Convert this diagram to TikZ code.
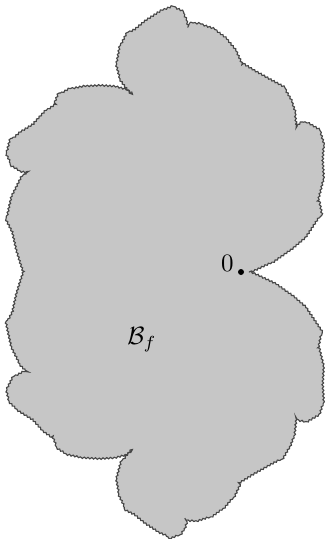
\documentclass[tikz,border=0pt]{standalone}
\usepackage{amsmath,amssymb}
\usepackage{xcolor}
\usepackage{tikz}
\usetikzlibrary{positioning,calc,decorations.pathmorphing}
\definecolor{basingray}{RGB}{198,198,198}

\begin{document}
\begin{tikzpicture}[x=0.4pt, y=-0.4pt,
  basin/.style={fill=basingray, draw=black!72, line width=0.45pt,
                decorate, decoration={bumps, segment length=3pt, amplitude=0.6pt}},
  fixpt/.style={circle, fill=black, inner sep=0pt, minimum size=2.4pt},
  lbl/.style={font=\normalsize, inner sep=0pt},
]
\useasboundingbox (0,0) rectangle (325,539);

% the basin: lower half first, then upper half (clockwise, bumps outwards)
\path[basin] (249,272) -- (256,275) -- (275,284) -- (292,296) -- (305,307) -- (313,319) -- (321,331)
  -- (318,346) -- (323,366) -- (322,384) -- (323,401) -- (319,414) -- (307,421) -- (300,420) -- (296,417)
  -- (295,424) -- (294,434) -- (290,445) -- (283,457) -- (270,464) -- (254,473) -- (241,481) -- (235,494)
  -- (225,506) -- (213,515) -- (198,520) -- (190,520) -- (187,519) -- (185,526) -- (181,533) -- (172,537)
  -- (160,532) -- (146,523) -- (135,514) -- (127,510) -- (120,496) -- (117,479) -- (121,464) -- (127,456)
  -- (132,450) -- (126,454) -- (115,457) -- (100,458) -- (83,457) -- (68,454) -- (58,448) -- (54,438)
  -- (44,431) -- (33,419) -- (20,411) -- (10,402) -- (7,390) -- (13,378) -- (22,373) -- (28,372)
  -- (21,365) -- (12,347) -- (7,324) -- (13,312) -- (17,294) -- (21,281) -- (24,272)
  % upper half
  -- (21,263) -- (17,250) -- (13,232) -- (7,220) -- (12,197) -- (21,179) -- (28,172) -- (22,171)
  -- (13,166) -- (7,154) -- (10,142) -- (20,133) -- (33,125) -- (44,113) -- (54,106) -- (58,96)
  -- (68,90) -- (83,87) -- (100,86) -- (115,87) -- (126,90) -- (132,94) -- (127,88) -- (121,80)
  -- (117,65) -- (120,48) -- (127,34) -- (135,30) -- (146,21) -- (160,12) -- (172,7) -- (181,11)
  -- (185,18) -- (187,25) -- (190,24) -- (198,24) -- (213,29) -- (225,38) -- (235,50) -- (241,63)
  -- (254,71) -- (270,80) -- (283,87) -- (290,99) -- (294,110) -- (295,120) -- (296,127) -- (300,124)
  -- (307,123) -- (319,130) -- (323,143) -- (322,160) -- (323,178) -- (318,198) -- (321,213) -- (313,225)
  -- (305,237) -- (292,248) -- (275,260) -- (256,269)
  -- cycle;

\node[fixpt] (origin) at (241,272) {};
\node[lbl, anchor=south east] (zero) at ([xshift=-2.8pt]origin.center) {$0$};
\node[lbl] (basinlbl) at (142,340) {$\mathcal{B}_f$};
\end{tikzpicture}
\end{document}
